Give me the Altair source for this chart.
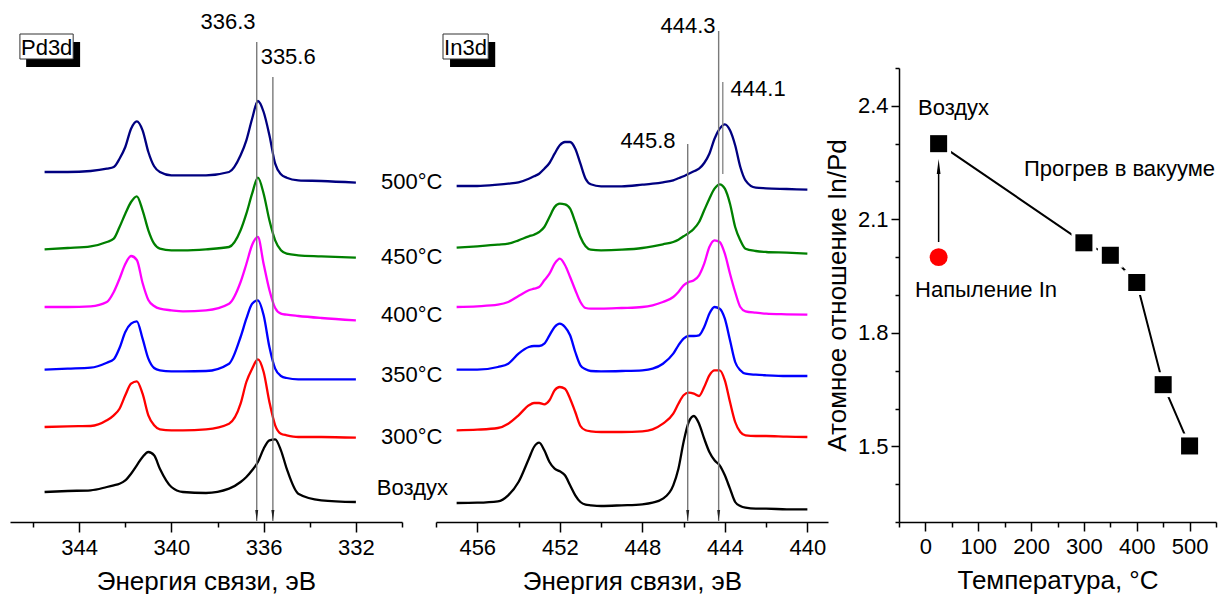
import altair as alt
import pandas as pd

FONT = "Liberation Sans"

series_names = ["Воздух", "300°C", "350°C", "400°C", "450°C", "500°C"]
series_colors = ["#000000", "#FF0000", "#0000FF", "#FF00FF", "#008000", "#000080"]

# ---------------- Pd3d spectra (binding energy, eV ; stacked intensity, a.u.) ----------------
pd_ev = [345.5, 344.5, 343.5, 342.8, 342.5, 342.25, 342.0, 341.75, 341.5, 341.25,
         341.0, 340.75, 340.5, 340.0, 339.5, 338.5, 337.5, 337.0, 336.75, 336.5,
         336.25, 336.0, 335.75, 335.5, 335.25, 335.0, 334.5, 333.5, 332.0]
pd_air = [30, 31, 31.7, 35, 36.7, 38.3, 41.7, 48.3, 56.7, 65,
          70, 66.7, 53.3, 35, 30, 29, 33.3, 40, 45, 51.7,
          60, 73.3, 81.7, 82.7, 71.7, 53.3, 28.3, 21.7, 20]
pd_300 = [95, 95.7, 96, 101.7, 106.7, 113.3, 126.7, 138.3, 140.7, 128.3,
          106.7, 96.7, 92.7, 91.7, 91.7, 92.7, 98.3, 118.3, 140, 153.3,
          162.7, 150, 120, 96.7, 88.3, 86.7, 85, 85, 84.3]
pd_350 = [152.3, 153.3, 154.3, 159.3, 162.7, 174, 190, 198.3, 200.7, 183.3,
          163.3, 154, 151.7, 150.7, 150.7, 151, 158.3, 185, 203.3, 218.3,
          221.7, 206.7, 175, 153.3, 146, 144, 142.7, 142.7, 142.7]
pd_400 = [215, 215, 215.7, 220, 230, 243.3, 258, 266, 262, 239,
          222, 216, 213.3, 211.7, 210.7, 211.7, 218.3, 240, 258, 277,
          285, 258, 232, 214, 208.3, 207.3, 206, 204, 201.7]
pd_450 = [272.7, 274, 275.7, 280, 283.3, 295, 308.3, 320, 325.7, 311.7,
          291.7, 278.3, 273.3, 271.7, 271.7, 272.7, 275, 291.7, 308.3, 328.3,
          344.3, 328.3, 301.7, 281.7, 271.7, 268.3, 266.7, 265.7, 264.3]
pd_500 = [350, 350, 351, 353.3, 355, 363.3, 375, 393.3, 400.7, 391.7,
          370, 355.7, 350, 346.7, 346.7, 346.7, 350, 366.7, 381.7, 403.3,
          421, 410, 386.7, 358.3, 347.7, 344.3, 341.7, 341, 339.3]

# ---------------- In3d spectra ----------------
in_ev = [457.0, 456.0, 455.0, 454.5, 454.0, 453.5, 453.25, 453.0, 452.75, 452.5,
         452.25, 452.0, 451.75, 451.5, 451.25, 451.0, 450.75, 450.5, 450.0, 449.0,
         448.0, 447.5, 447.0, 446.5, 446.25, 446.0, 445.75, 445.5, 445.25, 445.0,
         444.75, 444.5, 444.25, 444.0, 443.75, 443.5, 443.25, 443.0, 442.5, 442.0,
         441.0, 440.0]
in_air = [19, 19.3, 20.7, 26.7, 40, 63.3, 75, 79.3, 71.7, 60,
          53.3, 50.7, 46.7, 36.7, 26.7, 20, 17.3, 16.7, 16, 16.7,
          17.7, 19.3, 23.3, 36.7, 53.3, 80, 100, 106, 98.3, 83.3,
          70, 61.7, 56.7, 46.7, 33.3, 20, 16, 14.3, 13.3, 13.3,
          12.7, 12.7]
in_300 = [91.7, 92.3, 94, 98.3, 106.7, 116.7, 119, 119, 117.7, 121.7,
          131.7, 135, 133.3, 123.3, 110, 96, 91.7, 90.7, 90, 90,
          90.7, 92.7, 98.3, 108.3, 118.3, 126.7, 129.3, 128.3, 126, 135,
          146.7, 151.7, 151.7, 141.7, 120, 100, 90, 86.7, 86, 86,
          85.3, 85]
in_350 = [152.3, 152.3, 155, 158.3, 168.3, 175, 176, 176, 178.3, 186.7,
          195, 198.3, 195, 186.7, 170, 156.7, 152.7, 151, 150.7, 151,
          151.7, 153.3, 158.3, 168.3, 176.7, 183.3, 186, 186, 186.7, 195,
          208.3, 215, 213.3, 203.3, 181.7, 160, 151.7, 148.3, 147.3, 146.7,
          146, 146]
in_400 = [215, 215.7, 217.3, 220, 226, 231.7, 233.3, 235, 241.7, 248.3,
          258.3, 263.3, 257, 245, 232, 220, 214, 213.3, 213.3, 214,
          215, 216.7, 220, 225, 230, 236.7, 240, 241.7, 246.7, 258.3,
          275, 281.7, 280, 268.3, 248.3, 230, 215, 210.7, 209.3, 208.3,
          207.7, 207.3]
in_450 = [274.3, 275.7, 277.3, 278.3, 281.7, 285.7, 287.3, 290, 295, 305,
          315, 318.3, 317.7, 313.3, 300, 285, 275.7, 272.3, 271.7, 272.3,
          274, 275.7, 277.7, 280, 282.3, 285.7, 289, 293.3, 300, 311.7,
          323.3, 333.3, 337.7, 333.3, 318.3, 295, 281.7, 273.3, 271, 270,
          269.3, 268.3]
in_500 = [336, 336, 337.3, 338.3, 339.7, 343.3, 345.7, 348.3, 353.3, 359,
          368.3, 376.7, 380, 380, 373.3, 358.3, 343.3, 337.7, 335.7, 335.7,
          337.3, 338.3, 339.7, 341.7, 343.7, 345.7, 348.3, 350.7, 353.3, 359,
          368.3, 383.3, 393.3, 397.7, 391.7, 376.7, 355, 341.7, 334.3, 333.7,
          333, 332.3]

# ---------------- In/Pd atomic ratio ----------------
temp_c = [25, 300, 350, 400, 450, 500]
ratio = [2.300, 2.038, 2.005, 1.933, 1.663, 1.501]
depo_t = [25]
depo_r = [2.000]

pd_ticks = [346, 344, 342, 340, 338, 336, 334, 332, 330]
in_ticks = [458, 456, 454, 452, 450, 448, 446, 444, 442, 440]
t_ticks = [-50, 0, 50, 100, 150, 200, 250, 300, 350, 400, 450, 500, 550]
r_ticks = [1.3, 1.4, 1.5, 1.6, 1.7, 1.8, 1.9, 2.0, 2.1, 2.2, 2.3, 2.4, 2.5]

TICK_FS = 22
TITLE_FS = 26
ANN_FS = 22


def long_df(ev, curves):
    rows = []
    for name, ys in zip(series_names, curves):
        for e, v in zip(ev, ys):
            rows.append({"ev": e, "I": v, "s": name})
    return pd.DataFrame(rows)


def make_axis(values, test, title, major=10, minor=5, lpad=5, tpad=10):
    return alt.Axis(
        values=values, title=title, grid=False,
        labelExpr=f"({test}) ? datum.label : ''",
        tickSize={"condition": {"test": test, "value": major}, "value": minor},
        domainColor="black", domainWidth=1.5, tickColor="black", tickWidth=1.5,
        labelFont=FONT, labelFontSize=TICK_FS, labelColor="black", labelPadding=lpad,
        labelFlush=False, labelOverlap=False,
        titleFont=FONT, titleFontSize=TITLE_FS, titleFontWeight="normal",
        titleColor="black", titlePadding=tpad,
    )


Y_SPEC = alt.Y("I:Q", scale=alt.Scale(domain=[0, 510], nice=False, zero=False), axis=None)
COLOR = alt.Color("s:N", scale=alt.Scale(domain=series_names, range=series_colors), legend=None)
ARROW_DOWN = "M-0.27,-1L0.27,-1L0,1Z"
ARROW_UP = "M-0.25,1L0.25,1L0,-1Z"


def text_layer(df, X, align, size=ANN_FS):
    return alt.Chart(df).mark_text(align=align, baseline="alphabetic", font=FONT,
                                   fontSize=size, color="black").encode(
        x=X, y=Y_SPEC, text="txt:N")


def spectra_panel(ev, curves, X, arrow_lines, plain_lines, txt_left, txt_right,
                  shadow, box, box_label, width):
    layers = []
    layers.append(alt.Chart(long_df(ev, curves)).mark_line(
        strokeWidth=2.3, interpolate="monotone").encode(x=X, y=Y_SPEC, color=COLOR))
    al = pd.DataFrame(arrow_lines)
    layers.append(alt.Chart(al).mark_rule(color="#7a7a7a", strokeWidth=1.4).encode(
        x=X, y=Y_SPEC, y2=alt.Y2("I2:Q")))
    if plain_lines is not None:
        layers.append(alt.Chart(pd.DataFrame(plain_lines)).mark_rule(
            color="#8a8a8a", strokeWidth=1.4).encode(x=X, y=Y_SPEC, y2=alt.Y2("I2:Q")))
    heads = pd.DataFrame({"ev": al["ev"], "I": [6.5] * len(al)})
    layers.append(alt.Chart(heads).mark_point(shape=ARROW_DOWN, filled=True, color="#222222",
                                              size=121, opacity=1).encode(x=X, y=Y_SPEC))
    layers.append(text_layer(pd.DataFrame(txt_left), X, "left"))
    layers.append(text_layer(pd.DataFrame(txt_right), X, "right"))
    layers.append(alt.Chart(pd.DataFrame(shadow)).mark_rect(color="black").encode(
        x=X, x2=alt.X2("ev2:Q"), y=Y_SPEC, y2=alt.Y2("I2:Q")))
    layers.append(alt.Chart(pd.DataFrame(box)).mark_rect(fill="white", stroke="#333333",
                                                         strokeWidth=1).encode(
        x=X, x2=alt.X2("ev2:Q"), y=Y_SPEC, y2=alt.Y2("I2:Q")))
    layers.append(text_layer(pd.DataFrame(box_label), X, "center", size=22))
    return alt.layer(*layers).properties(width=width, height=510)


# ---- panel 1 : Pd3d ----
X1 = alt.X("ev:Q", scale=alt.Scale(domain=[330, 347], range=[392, 0], nice=False, zero=False),
           axis=make_axis(pd_ticks, "datum.value % 4 === 0", "Энергия связи, эВ"))
p1 = spectra_panel(
    pd_ev, [pd_air, pd_300, pd_350, pd_400, pd_450, pd_500], X1,
    {"ev": [336.3, 335.6], "I": [1, 1], "I2": [480, 445]},
    None,
    {"ev": [336.13, 330.91, 330.91, 330.91, 330.91, 330.91, 331.09],
     "I": [458, 333, 258, 200, 140, 78, 27],
     "txt": ["335.6", "500°C", "450°C", "400°C", "350°C", "300°C", "Воздух"]},
    {"ev": [336.35], "I": [493], "txt": ["336.3"]},
    {"ev": [346.30], "ev2": [343.96], "I": [455], "I2": [480]},
    {"ev": [346.57], "ev2": [344.26], "I": [463], "I2": [488]},
    {"ev": [345.41], "I": [467], "txt": ["Pd3d"]},
    392,
)

# ---- panel 2 : In3d ----
X2 = alt.X("ev:Q", scale=alt.Scale(domain=[439, 458], range=[392, 0], nice=False, zero=False),
           axis=make_axis(in_ticks, "datum.value % 4 === 0", "Энергия связи, эВ"))
p2 = spectra_panel(
    in_ev, [in_air, in_300, in_350, in_400, in_450, in_500], X2,
    {"ev": [444.3, 445.8], "I": [1, 1], "I2": [491, 378]},
    {"ev": [444.1], "I": [348], "I2": [440]},
    {"ev": [443.72], "I": [426], "txt": ["444.1"]},
    {"ev": [444.45, 446.39], "I": [489, 374], "txt": ["444.3", "445.8"]},
    {"ev": [457.32], "ev2": [455.13], "I": [455], "I2": [480]},
    {"ev": [457.66], "ev2": [455.47], "I": [463], "I2": [488]},
    {"ev": [456.57], "I": [467], "txt": ["In3d"]},
    429,
)

# ---- panel 3 : ratio vs temperature ----
X3 = alt.X("T:Q", scale=alt.Scale(domain=[-50, 550], nice=False, zero=False),
           axis=make_axis(t_ticks, "datum.value % 100 === 0", "Температура, °C", major=9))
Y3 = alt.Y("R:Q", scale=alt.Scale(domain=[1.3, 2.5], range=[510, 56], nice=False, zero=False),
           axis=alt.Axis(
               values=r_ticks, title="Атомное отношение In/Pd", grid=False,
               labelExpr="(round(datum.value*10) % 3 === 0) ? format(datum.value, '.1f') : ''",
               tickSize={"condition": {"test": "round(datum.value*10) % 3 === 0", "value": 8},
                         "value": 4},
               domainColor="black", domainWidth=1.5, tickColor="black", tickWidth=1.5,
               labelFont=FONT, labelFontSize=TICK_FS, labelColor="black", labelPadding=3,
               labelFlush=False, labelOverlap=False,
               titleFont=FONT, titleFontSize=TITLE_FS, titleFontWeight="normal",
               titleColor="black", titlePadding=7))

df3 = pd.DataFrame({"T": temp_c, "R": ratio})
dfd = pd.DataFrame({"T": depo_t, "R": depo_r})
arrow3 = pd.DataFrame({"T": depo_t, "R": [2.04], "R2": [2.232]})
head3 = pd.DataFrame({"T": depo_t, "R": [2.2396]})


def text3(df, align):
    return alt.Chart(df).mark_text(align=align, baseline="alphabetic", font=FONT,
                                   fontSize=ANN_FS, color="black").encode(x=X3, y=Y3, text="txt:N")


p3 = alt.layer(
    alt.Chart(df3).mark_line(color="black", strokeWidth=2).encode(x=X3, y=Y3),
    alt.Chart(df3).mark_point(shape="square", filled=True, color="white", size=620,
                              opacity=1).encode(x=X3, y=Y3),
    alt.Chart(df3).mark_point(shape="square", filled=True, color="black", size=290,
                              opacity=1).encode(x=X3, y=Y3),
    alt.Chart(dfd).mark_point(shape="circle", filled=True, color="#FF0000", size=320,
                              opacity=1).encode(x=X3, y=Y3),
    alt.Chart(arrow3).mark_rule(color="black", strokeWidth=1.5).encode(
        x=X3, y=Y3, y2=alt.Y2("R2:Q")),
    alt.Chart(head3).mark_point(shape=ARROW_UP, filled=True, color="black", size=225,
                                opacity=1).encode(x=X3, y=Y3),
    text3(pd.DataFrame({"T": [-14, 186.7, -19.7], "R": [2.375, 2.2145, 1.895],
                        "txt": ["Воздух", "Прогрев в вакууме", "Напыление In"]}), "left"),
).properties(width=317, height=510)

chart = alt.hconcat(p1, p2, p3, spacing=34, bounds="flush").properties(
    padding={"left": 2, "top": 2, "right": 2, "bottom": 0}
).configure_view(stroke=None)

chart.save("out.html", embed_options={"renderer": "svg", "actions": False})
